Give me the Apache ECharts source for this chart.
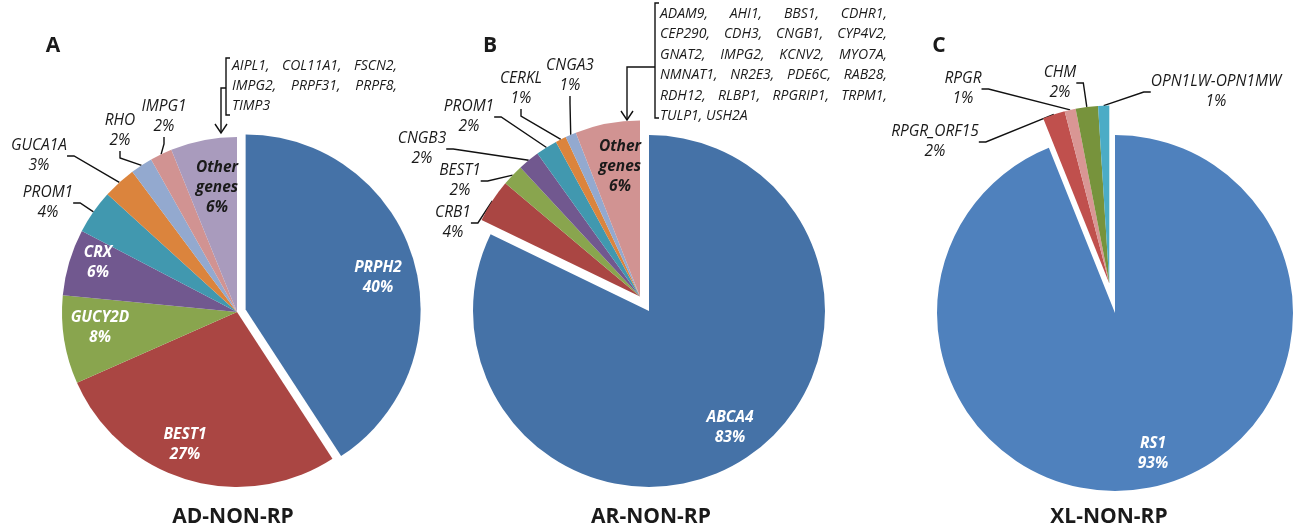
<!DOCTYPE html>
<html>
<head>
<meta charset="UTF-8">
<title>Non-RP gene distribution</title>
<script src="https://cdn.jsdelivr.net/npm/echarts@6/dist/echarts.min.js"></script>
<style>
  html, body { margin: 0; padding: 0; background: #fff; }
  #chart { width: 1304px; height: 529px; }
</style>
</head>
<body>
<div id="chart"></div>
<script>
// ---- data (percent of cases per gene) ----
const adGenes = ['PRPH2', 'BEST1', 'GUCY2D', 'CRX', 'PROM1', 'GUCA1A', 'RHO', 'IMPG1', 'Other genes'];
const adPercent = [40, 27, 8, 6, 4, 3, 2, 2, 6];

const arGenes = ['ABCA4', 'CRB1', 'BEST1', 'CNGB3', 'PROM1', 'CERKL', 'CNGA3', 'Other genes'];
const arPercent = [83, 4, 2, 2, 2, 1, 1, 6];

const xlGenes = ['RS1', 'RPGR_ORF15', 'RPGR', 'CHM', 'OPN1LW-OPN1MW'];
const xlPercent = [93, 2, 1, 2, 1];

// genes grouped in "Other genes" (one row per line)
const adOtherGenes = [
  ['AIPL1,', 'COL11A1,', 'FSCN2,'],
  ['IMPG2,', 'PRPF31,', 'PRPF8,'],
  ['TIMP3']
];
const arOtherGenes = [
  ['ADAM9,', 'AHI1,', 'BBS1,', 'CDHR1,'],
  ['CEP290,', 'CDH3,', 'CNGB1,', 'CYP4V2,'],
  ['GNAT2,', 'IMPG2,', 'KCNV2,', 'MYO7A,'],
  ['NMNAT1,', 'NR2E3,', 'PDE6C,', 'RAB28,'],
  ['RDH12,', 'RLBP1,', 'RPGRIP1,', 'TRPM1,'],
  ['TULP1, USH2A']
];

const panelLetters = ['A', 'B', 'C'];
const panelTitles = ['AD-NON-RP', 'AR-NON-RP', 'XL-NON-RP'];

// ---- look ----
const FONT = '"Open Sans", "Noto Sans", sans-serif';
const excelColors = ['#4572A7', '#AA4643', '#89A54E', '#71588F', '#4198AF', '#DB843D', '#93A9CF', '#D19392', '#A99BBD'];
const xlColors = ['#4F81BD', '#C0504D', '#D99694', '#77933C', '#4BACC6'];

// label centres, same order as the genes
const panels = [
  { genes: adGenes, values: adPercent, colors: excelColors, center: [237, 312], r: 175,
    moved: [0], dist: 9, inside: [0, 1, 2, 3, 8],
    labelAt: [[378, 278], [185, 445], [100, 328], [98, 263], [48, 203], [39, 156], [120, 131], [164, 117], [217, 188]],
    letterAt: [53, 46], titleX: 233 },
  { genes: arGenes, values: arPercent, colors: excelColors.slice(0, 8), center: [649, 311], r: 176,
    moved: [1, 2, 3, 4, 5, 6, 7], dist: 17, inside: [0, 7],
    labelAt: [[730, 428], [453, 223], [460, 181], [422, 149], [469, 117], [521, 89], [570, 76], [620, 167]],
    letterAt: [490, 46], titleX: 651 },
  { genes: xlGenes, values: xlPercent, colors: xlColors, center: [1115, 313], r: 178,
    moved: [1, 2, 3, 4], dist: 30, inside: [0],
    labelAt: [[1153, 454], [935, 142], [963, 89], [1060, 83], [1216, 92]],
    letterAt: [939, 46], titleX: 1109 }
];

// centre of the exploded part: pushed out along the mid angle of the moved slices
panels.forEach(p => {
  const total = p.values.reduce((a, b) => a + b, 0);
  let cum = 0, start = 0, end = 0;
  p.values.forEach((v, i) => {
    if (i === p.moved[0]) start = cum;
    cum += v;
    if (i === p.moved[p.moved.length - 1]) end = cum;
  });
  const mid = (start + end) / 2 / total * 2 * Math.PI;
  p.movedCenter = [p.center[0] + p.dist * Math.sin(mid), p.center[1] - p.dist * Math.cos(mid)];
});

function pieSeries(p, moving) {
  return {
    type: 'pie',
    center: moving ? p.movedCenter : p.center,
    radius: p.r,
    startAngle: 90,
    clockwise: true,
    avoidLabelOverlap: false,
    silent: true,
    animation: false,
    emphasis: { disabled: true },
    itemStyle: { borderWidth: 0 },
    label: {
      fontFamily: FONT, fontSize: 15.5, fontStyle: 'italic', lineHeight: 20,
      formatter: d => d.name.replace(' ', '\n') + '\n' + d.value + '%'
    },
    labelLine: {
      length: 8, length2: 7, smooth: false, minTurnAngle: 0,
      lineStyle: { color: '#111', width: 1.4 }
    },
    labelLayout: prm => {
      const at = p.labelAt[prm.dataIndex];
      return { x: at[0], y: at[1], align: 'center', verticalAlign: 'middle' };
    },
    data: p.genes.map((g, i) => {
      const shown = p.moved.includes(i) === moving;
      if (!shown) {
        return { name: g, value: p.values[i], itemStyle: { color: 'rgba(0,0,0,0)' },
          label: { show: false }, labelLine: { show: false } };
      }
      const inside = p.inside.includes(i);
      return {
        name: g, value: p.values[i],
        itemStyle: { color: p.colors[i] },
        label: {
          show: true,
          position: inside ? 'inside' : 'outside',
          color: inside && g !== 'Other genes' ? '#fff' : '#1a1a1a',
          fontWeight: inside ? 'bold' : 'normal'
        },
        labelLine: { show: !inside }
      };
    })
  };
}

// ---- annotations ----
const graphics = [];
const measure = document.createElement('canvas').getContext('2d');

function addText(text, x, y, font, align) {
  graphics.push({ type: 'text', x: x, y: y, silent: true,
    style: { text: text, font: font, fill: '#1a1a1a', textAlign: align || 'left', textVerticalAlign: 'middle' } });
}

// justified block of words, last line left aligned
function justify(lines, left, right, top, gap, font) {
  measure.font = font;
  lines.forEach((words, li) => {
    const y = top + li * gap;
    if (li === lines.length - 1 || words.length === 1) {
      addText(words.join(' '), left, y, font);
      return;
    }
    const w = words.map(s => measure.measureText(s).width);
    const space = (right - left - w.reduce((a, b) => a + b, 0)) / (words.length - 1);
    let x = left;
    words.forEach((s, i) => { addText(s, x, y, font); x += w[i] + space; });
  });
}

function line(points) {
  graphics.push({ type: 'polyline', silent: true, shape: { points: points },
    style: { stroke: '#111', lineWidth: 1.4, fill: null } });
}

const listFont = 'italic 14px ' + FONT;
justify(adOtherGenes, 232, 397, 66, 20, listFont);
justify(arOtherGenes, 660, 887, 14, 20.4, listFont);

// brackets + arrows to the "Other genes" slices
line([[230, 58], [226, 58], [226, 115], [230, 115]]);
line([[226, 88], [221, 88], [221, 133]]);
line([[215, 124], [221, 133], [227, 124]]);
line([[659, 3], [655, 3], [655, 118], [659, 118]]);
line([[655, 67], [627, 67], [627, 120]]);
line([[621, 111], [627, 120], [633, 111]]);

panels.forEach((p, i) => {
  addText(panelLetters[i], p.letterAt[0], p.letterAt[1], 'bold 21px ' + FONT, 'center');
  addText(panelTitles[i], p.titleX, 517, 'bold 21px ' + FONT, 'center');
});

const chart = echarts.init(document.getElementById('chart'));
chart.setOption({
  backgroundColor: '#fff',
  animation: false,
  series: panels.flatMap(p => [pieSeries(p, false), pieSeries(p, true)]),
  graphic: graphics
});
</script>
</body>
</html>
